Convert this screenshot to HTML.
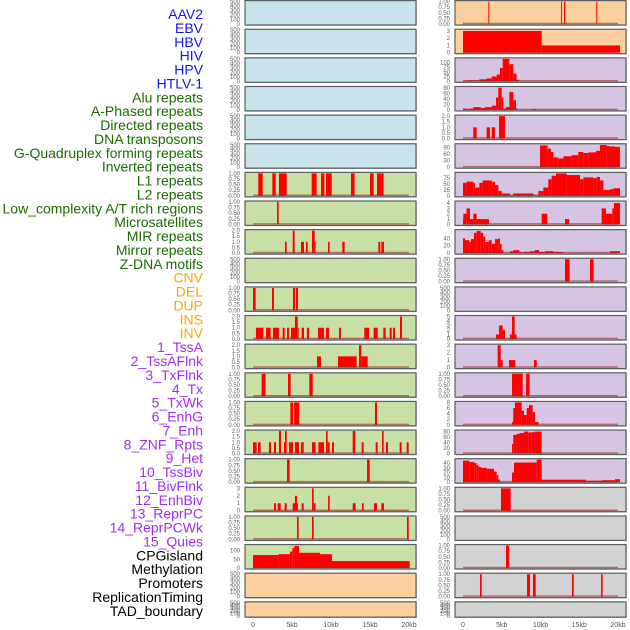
<!DOCTYPE html>
<html><head><meta charset="utf-8"><style>
html,body{margin:0;padding:0;background:#fff;width:630px;height:630px;overflow:hidden}
svg{display:block}
</style></head><body>
<svg id="chart" width="630" height="630" xmlns="http://www.w3.org/2000/svg" font-family="Liberation Sans, sans-serif"></svg>
<script>
const trackLabels = ["AAV2","EBV","HBV","HIV","HPV","HTLV-1","Alu repeats","A-Phased repeats","Directed repeats","DNA transposons","G-Quadruplex forming repeats","Inverted repeats","L1 repeats","L2 repeats","Low_complexity A/T rich regions","Microsatellites","MIR repeats","Mirror repeats","Z-DNA motifs","CNV","DEL","DUP","INS","INV","1_TssA","2_TssAFlnk","3_TxFlnk","4_Tx","5_TxWk","6_EnhG","7_Enh","8_ZNF_Rpts","9_Het","10_TssBiv","11_BivFlnk","12_EnhBiv","13_ReprPC","14_ReprPCWk","15_Quies","CPGisland","Methylation","Promoters","ReplicationTiming","TAD_boundary"];
const labelGroups = ["v","v","v","v","v","v","r","r","r","r","r","r","r","r","r","r","r","r","r","c","c","c","c","c","h","h","h","h","h","h","h","h","h","h","h","h","h","h","h","o","o","o","o","o"];
const xTickValues = [0,5,10,15,20];
const xTickLabels = ["0","5kb","10kb","15kb","20kb"];

const leftBg = ["b","b","b","b","b","b","g","g","g","g","g","g","g","g","g","g","g","g","g","g","p","p"];
const rightBg = ["p","p","v","v","v","v","v","v","v","v","v","v","v","v","v","v","v","k","k","k","k","k"];
const leftYmax = [500,500,500,500,500,500,1,1,2,500,1,2,2,1,1,2,1,3,1,130,500,500];
const rightYmax = [1,3.1,118,81,2,103,95,4.2,61,1,500,5,3,1,8,82,47,1,500,1,1,500];
const leftTickSet = ["h","h","h","h","h","h","u","u","d","h","u","d","d","u","u","d","u","i3","u","m","h","h"];
const rightTickSet = ["u","i3","q100","q80","d","t90","q75","i4","t40","u","h","i5","i3","u","e8","q80","f40","u","h","u","u","h"];
const tickSets = {
  h:[[0,100,200,300,400,500],0], u:[[0,0.25,0.5,0.75,1],2], d:[[0,0.5,1,1.5,2],1],
  i3:[[0,1,2,3],0], i4:[[0,1,2,3,4],0], i5:[[0,1,2,3,4,5],0], m:[[0,50,100],0],
  q100:[[0,25,50,75,100],0], q80:[[0,20,40,60,80],0], t90:[[0,30,60,90],0],
  q75:[[0,25,50,75],0], t40:[[0,20,40],0], e8:[[0,2,4,6,8],0], f40:[[0,10,20,30,40],0]
};

// segments: [startKb, endKb, value]
const segL6 = [[0.68,1.24,1],[2.48,2.91,1],[3.33,4.32,1],[7.52,8.16,1],[8.72,9.15,1],[9.36,10.09,1],[12.56,13.03,1],[15.0,15.47,1],[15.9,16.75,1]];
const segL7 = [[3.08,3.29,1]];
const segL8 = [[4.10,4.32,1],[5.09,5.34,2],[6.15,6.54,1],[6.79,7.01,1],[7.56,7.91,2],[7.91,8.03,1],[9.62,9.83,1],[11.45,11.75,1],[16.07,16.32,1],[16.45,16.79,1]];
const segL10 = [[0,0.34,1],[2.44,2.69,1],[5.13,5.38,1],[5.51,5.77,1]];
const segL11 = [[0.38,1.32,1],[1.67,2.26,1],[2.56,3.33,1],[3.8,4.06,1],[4.36,4.62,1],[4.87,5.38,1],[5.38,5.73,2],[5.73,5.85,1],[6.24,6.54,1],[6.92,7.18,1],[8.33,9.1,1],[9.36,9.74,1],[11.03,11.28,1],[14.27,14.87,1],[15.47,15.98,1],[16.71,17.01,1],[17.52,17.78,1],[17.95,18.21,1],[18.85,19.1,2]];
const segL12 = [[8.21,8.72,1],[10.9,13.29,1],[13.59,13.89,2],[13.89,14.7,1]];
const segL13 = [[1.11,1.62,1],[4.49,4.83,1],[7.22,7.65,1]];
const segL14 = [[4.79,5.13,1],[5.26,5.94,1],[15.64,15.9,1]];
const segL15 = [[0,0.47,1],[0.64,0.98,1],[2.05,2.31,1],[2.69,2.95,1],[3.33,3.59,2],[3.97,4.1,1],[4.1,4.32,2],[4.62,5.13,1],[5.38,5.9,1],[6.15,6.5,1],[7.56,8.03,1],[8.38,9.1,1],[9.36,9.57,2],[9.57,9.83,1],[10.13,10.38,1],[12.78,13.12,2],[13.93,14.19,1],[15.73,15.98,1],[16.54,16.75,2],[17.05,17.31,1],[18.8,19.06,1],[19.7,19.96,1]];
const segL16 = [[4.36,4.7,1],[14.62,14.96,1]];
const segL17 = [[2.69,2.95,1],[3.16,3.55,1],[4.06,4.32,1],[5.09,5.38,1],[5.38,5.64,2],[5.64,5.77,1],[6.24,6.5,1],[7.56,7.78,3],[7.78,8.03,1],[9.62,9.83,2],[12.78,13.16,1],[13.97,14.19,1],[15.51,15.9,1],[16.45,16.79,1]];
const segL18 = [[5.64,5.85,1],[7.56,7.78,1],[19.74,19.96,1]];
const segL19 = [[0,3.25,75],[3.25,4.74,80],[4.74,5.04,95],[5.04,5.3,115],[5.3,5.9,128],[5.9,8.59,88],[8.59,10.13,80],[10.13,20.09,40]];

const segR0 = [[3.27,3.4,1],[12.65,12.77,1],[13.03,13.2,1],[17.2,17.33,1]];
const segR1 = [[0,10.15,3],[10.15,20.26,1]];
const segR2 = [[0.04,0.6,3],[0.6,2.1,5],[2.1,3.05,10],[3.05,3.7,15],[3.7,4.34,25],[4.34,4.77,35],[4.77,5.12,70],[5.12,5.98,118],[5.98,6.49,90],[6.49,6.92,40],[6.92,7.23,8]];
const segR3 = [[0,0.34,5],[0.34,0.9,3],[0.9,1.33,5],[1.33,2.28,10],[2.28,2.84,7],[2.84,3.7,10],[3.7,4.26,15],[4.26,4.56,45],[4.56,4.99,80],[4.99,5.2,45],[5.2,5.55,5],[5.55,5.98,10],[5.98,6.49,65],[6.49,6.84,35],[6.84,7.01,5],[8.86,9.51,3]];
const segR4 = [[1.33,1.76,1],[3.05,3.48,1],[3.7,4.13,1],[4.65,5.42,2]];
const segR5 = [[9.94,10.92,100],[10.92,11.35,85],[11.35,11.66,70],[11.66,12.22,45],[12.22,12.95,40],[12.95,14.02,50],[14.02,14.88,55],[14.88,15.53,70],[15.53,16.17,65],[16.17,17.16,68],[17.16,17.68,75],[17.68,18.54,102],[18.54,18.97,97],[18.97,19.61,95],[19.61,20.26,93]];
const segR6 = [[0,0.47,55],[0.47,1.33,60],[1.33,1.55,55],[1.55,2.11,35],[2.11,2.54,55],[2.54,3.7,65],[3.7,4.13,60],[4.13,4.56,45],[4.56,4.99,20],[4.99,6.06,10],[6.06,6.49,2],[6.49,9.08,10],[9.08,9.72,2],[9.72,10.37,20],[10.37,11.01,35],[11.01,11.44,70],[11.44,12.0,85],[12.0,13.38,95],[13.38,15.1,88],[15.1,15.53,70],[15.53,16.82,78],[16.82,17.25,75],[17.25,17.68,80],[17.68,18.11,65],[18.11,18.97,25],[18.97,19.4,28],[19.4,20.26,32]];
const segR7 = [[0,0.04,1],[0.04,0.47,2],[0.47,0.9,3],[0.9,1.33,1],[1.33,1.76,2],[1.76,3.35,1],[10.15,10.88,2],[13.16,13.72,1],[17.89,18.45,3],[18.45,19.27,2],[19.27,19.48,3],[19.48,20.26,4]];
const segR8 = [[0,0.26,40],[0.26,0.82,35],[0.82,1.03,30],[1.03,1.42,38],[1.42,1.76,55],[1.76,2.28,60],[2.28,2.62,55],[2.62,2.88,45],[2.88,3.31,30],[3.31,3.7,35],[3.7,4.13,25],[4.13,4.56,38],[4.56,4.77,40],[4.77,4.99,25],[4.99,5.2,8],[6.06,6.49,5],[6.49,7.27,8],[7.27,7.57,3],[7.78,8.65,3],[8.65,9.29,5],[9.29,9.81,8],[9.81,10.58,3],[10.58,11.66,5],[11.66,12.95,3],[18.97,20.26,5]];
const segR9 = [[13.16,13.76,1],[16.39,16.86,1]];
const segR11 = [[4.26,4.65,1],[4.65,5.12,3],[5.12,5.42,2],[6.06,6.32,1],[6.32,6.67,5],[6.67,6.92,1]];
const segR12 = [[4.47,4.86,3],[4.86,5.12,1],[5.94,6.75,1],[9.16,9.51,1]];
const segR13 = [[6.32,7.7,1],[8.13,8.6,1]];
const segR14 = [[6.32,6.49,1],[6.49,6.71,6],[6.71,7.57,8],[7.57,7.87,5],[7.87,8.22,3.5],[8.22,8.52,6],[8.52,8.99,7],[8.99,9.29,4.5],[9.29,9.76,1]];
const segR15 = [[6.32,6.49,35],[6.49,6.92,68],[6.92,7.35,72],[7.35,7.87,75],[7.87,8.43,80],[8.43,8.86,77],[8.86,9.29,78],[9.29,10.15,80]];
const segR16 = [[0,0.82,45],[0.82,1.46,42],[1.46,1.76,40],[1.76,2.02,35],[2.02,2.32,32],[2.32,3.05,30],[3.05,4.0,28],[4.0,4.34,22],[4.34,4.56,15],[4.56,4.77,5],[6.32,6.58,20],[6.58,6.71,40],[6.71,9.51,41],[9.51,10.15,47],[10.15,15.87,5],[15.87,17.89,3],[17.89,19.61,4],[19.61,20.26,6]];
const segR17 = [[4.9,6.15,1]];
const segR19 = [[5.55,5.94,1]];
const segR20 = [[2.19,2.41,1],[8.26,8.65,1],[9.03,9.38,1],[14.06,14.28,1],[17.81,18.02,1]];

const leftSegs = [[],[],[],[],[],[],segL6,segL7,segL8,[],segL10,segL11,segL12,segL13,segL14,segL15,segL16,segL17,segL18,segL19,[],[]];
const rightSegs = [segR0,segR1,segR2,segR3,segR4,segR5,segR6,segR7,segR8,segR9,[],segR11,segR12,segR13,segR14,segR15,segR16,segR17,[],segR19,segR20,[]];

const NS = "http://www.w3.org/2000/svg";
const svg = document.getElementById("chart");
function mk(tag, attrs, parent){
  const e = document.createElementNS(NS, tag);
  for (const k in attrs) e.setAttribute(k, attrs[k]);
  (parent||svg).appendChild(e);
  return e;
}
const bgColors = {b:"#c8e3eb", g:"#c8e0a5", p:"#fdcf9f", v:"#d6c5e2", k:"#d2d2d2"};
const labelColors = {v:"#1515ee", r:"#1a6b00", c:"#ffa500", h:"#a02ef0", o:"#000000"};
const columns = [
  {name:"left", px0:245, px1:416, x0:253, scale:7.8, tickX:240, bg:leftBg, ymax:leftYmax, tsets:leftTickSet, segs:leftSegs},
  {name:"right", px0:455, px1:626, x0:463, scale:7.75, tickX:450, bg:rightBg, ymax:rightYmax, tsets:rightTickSet, segs:rightSegs}
];
function rowTop(i){ return 0.6 + 28.63*i; }
function rowH(i){ return i===21 ? 15.3 : 24.4; }

// labels
trackLabels.forEach((t,i)=>{
  const el = mk("text",{x:203,y:19+13.88*i,"text-anchor":"end","font-size":"14",fill:labelColors[labelGroups[i]]});
  
  
  el.textContent = t;
});

columns.forEach(col=>{
  const xs = kb => col.x0 + kb*col.scale;
  for (let i=0;i<22;i++){
    const top = rowTop(i), h = rowH(i), bot = top+h;
    const ymax = col.ymax[i];
    const ys = v => bot - 1 - v/ymax*(h-2);
    const g = mk("g",{});
    
    
    mk("rect",{x:col.px0+0.8,y:top+0.8,width:col.px1-col.px0,height:h,fill:"#b0b0b0"},g);
    mk("rect",{x:col.px0,y:top,width:col.px1-col.px0,height:h,fill:bgColors[col.bg[i]],stroke:"#5a5e60","stroke-width":"1.2"},g);
    const segs = col.segs[i];
    if (segs.length){
      segs.forEach(s=>{
        const x1 = Math.max(col.px0+0.6, xs(s[0])), x2 = Math.min(col.px1-0.6, xs(s[1]));
        const r = mk("rect",{x:x1,y:ys(s[2]),width:Math.max(0.9,x2-x1),height:ys(0)-ys(s[2]),fill:"#ff0000"},g);
        
        
      });
      mk("line",{x1:xs(0),x2:xs(20),y1:ys(0)-0.5,y2:ys(0)-0.5,stroke:"rgba(160,40,40,0.6)","stroke-width":"1.5"},g);
    }
    const ts = tickSets[col.tsets[i]];
    ts[0].forEach(v=>{
      const y = ys(v);
      if (y < 0.5) return;
      const t = mk("text",{x:col.tickX,y:y+2,"text-anchor":"end","font-size":"6",fill:"#606060"},g);
      
      
      t.textContent = v.toFixed(ts[1]);
    });
  }
  xTickValues.forEach((v,k)=>{
    const t = mk("text",{x:xs(v),y:627,"text-anchor":"middle","font-size":"7",fill:"#555"});
    
    
    t.textContent = xTickLabels[k];
  });
});
</script>
</body></html>
